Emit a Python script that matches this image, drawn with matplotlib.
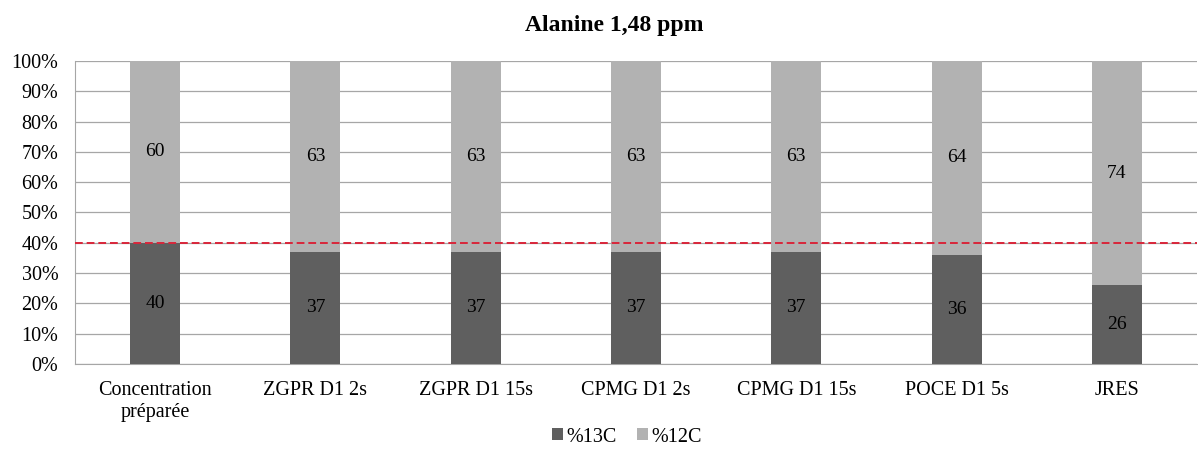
import matplotlib
matplotlib.use("Agg")
import matplotlib.pyplot as plt
import numpy as np

categories = ["Concentration\npréparée", "ZGPR D1 2s", "ZGPR D1 15s", "CPMG D1 2s",
              "CPMG D1 15s", "POCE D1 5s", "JRES"]
c13 = [40, 37, 37, 37, 37, 36, 26]
c12 = [60, 63, 63, 63, 63, 64, 74]
ref_line = 40
title = "Alanine 1,48 ppm"

plt.rcParams['font.family'] = ['Liberation Serif', 'DejaVu Serif']

fig = plt.figure(figsize=(11.98, 4.62), dpi=100)
ax = fig.add_axes([75/1198, 1-364/462, (1197-75)/1198, (364-61)/462])

x = np.arange(len(categories))
dark = "#5f5f5f"
light = "#b2b2b2"
w = 50/160.3
b1 = ax.bar(x, c13, width=w, color=dark, zorder=3, label="%13C")
b2 = ax.bar(x, c12, width=w, bottom=c13, color=light, zorder=3, label="%12C")

for i in range(len(categories)):
    ax.text(x[i], c13[i]/2, str(c13[i]), ha="center", va="center", fontsize=14, zorder=5)
    ax.text(x[i], c13[i] + c12[i]/2, str(c12[i]), ha="center", va="center", fontsize=14, zorder=5)

ax.set_xlim(-0.5, len(categories)-0.5)
ax.set_ylim(0, 100)
ax.set_yticks(np.arange(0, 101, 10))
ax.set_yticklabels([f"{v}%" for v in range(0, 101, 10)], fontsize=14.5)
ax.set_xticks(x)
ax.set_xticklabels(categories, fontsize=14.5, linespacing=1.25)
ax.tick_params(axis="y", length=0, pad=12)
ax.tick_params(axis="x", length=0, pad=12)
ax.yaxis.grid(True, color="#a6a6a6", linewidth=0.9, zorder=0)
for s in ["top", "right"]:
    ax.spines[s].set_visible(False)
ax.spines["left"].set_color("#a6a6a6")
ax.spines["bottom"].set_color("#a6a6a6")

ax.axhline(ref_line, color="#d9263a", linestyle=(0, (4, 2)), linewidth=1.4, zorder=4, clip_on=False)

fig.text(614/1198, 1-25/462, title, ha="center", va="center", fontsize=17, fontweight="bold")

fig.legend(handles=[b1, b2], loc="center", bbox_to_anchor=(627/1198, 1-437/462), ncol=2,
           frameon=False, fontsize=14.5, handlelength=0.55, handleheight=0.55,
           handletextpad=0.15, columnspacing=1.0)

fig.savefig("out.png", dpi=100)
